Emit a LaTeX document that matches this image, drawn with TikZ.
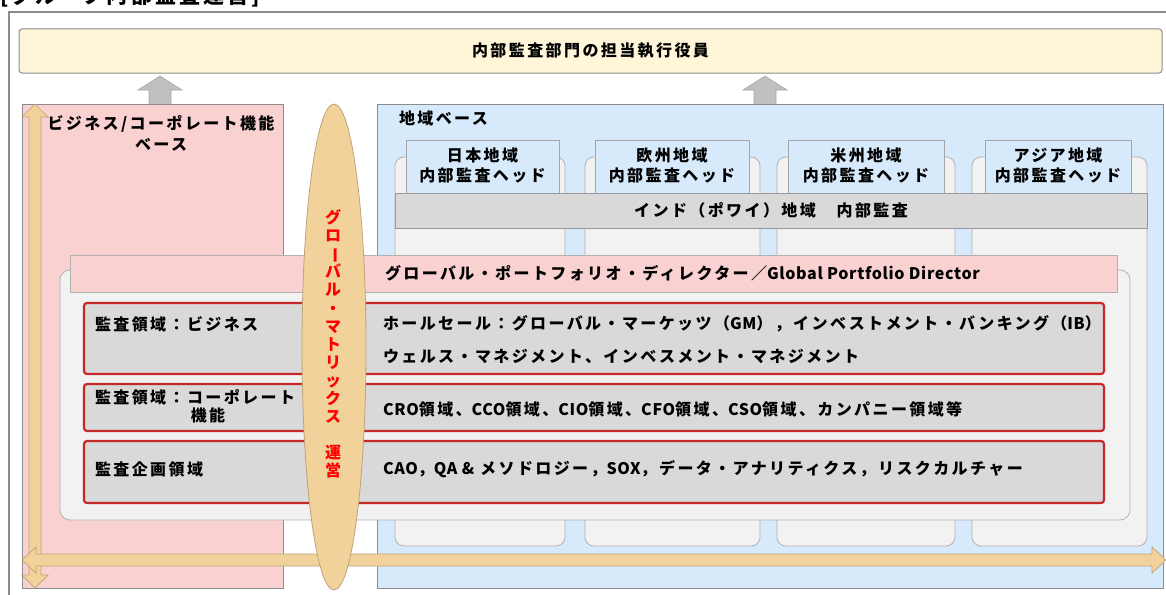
\documentclass[tikz,border=0pt]{standalone}
\usepackage{fontspec}
\setmainfont{Noto Sans CJK JP}[LetterSpace=15]
\newcommand{\lat}[1]{{\addfontfeature{LetterSpace=4}#1}}
\usetikzlibrary{shapes.geometric,calc}
\definecolor{ylw}{HTML}{FFF6DA}
\definecolor{pnk}{HTML}{F9D1D1}
\definecolor{blu}{HTML}{D6EAFB}
\definecolor{lgr}{HTML}{F2F2F2}
\definecolor{mgr}{HTML}{D9D9D9}
\definecolor{tanf}{HTML}{F2D29B}
\definecolor{tane}{HTML}{BFA27A}
\definecolor{redb}{HTML}{C62828}
\definecolor{edgec}{HTML}{8C8C8C}
\definecolor{garr}{HTML}{C0C0C0}
\tikzset{
  base/.style={inner sep=0pt, outer sep=0pt, anchor=north west},
  ybox/.style={base, fill=ylw, draw=edgec, line width=1pt, rounded corners=3pt},
  pbox/.style={base, fill=pnk, draw=edgec, line width=0.8pt},
  bbox/.style={base, fill=blu, draw=edgec, line width=0.8pt},
  colbox/.style={base, fill=lgr, draw=black!30, line width=0.8pt, rounded corners=9pt},
  headbox/.style={base, fill=blu, draw=black!35, line width=0.8pt},
  gbar/.style={base, fill=mgr, draw=black!40, line width=0.8pt},
  contbox/.style={base, fill=lgr, draw=black!30, line width=0.8pt, rounded corners=10pt},
  gpdbar/.style={base, fill=pnk, draw=black!30, line width=0.8pt},
  rbox/.style={base, fill=mgr, draw=redb, line width=2.2pt, rounded corners=3pt},
  txt/.style={inner sep=0pt, outer sep=0pt, font=\fontsize{16}{20}\selectfont\bfseries},
  ltxt/.style={txt, anchor=west},
  garrow/.style={fill=garr, draw=black!35, line width=0.6pt},
  tarrow/.style={fill=tanf, draw=tane, line width=0.7pt},
}
\begin{document}
\begin{tikzpicture}[x=1pt,y=-1pt]
\useasboundingbox (0,0) rectangle (1166,594);
% partial title
\node[txt, anchor=west, font=\fontsize{21}{22}\selectfont\bfseries] (ttl) at (0,-4) {[グループ内部監査運営]};
% outer frame
\draw[edgec, line width=1.2pt] (9,640) -- (9,12) -- (1200,12);
% executive box
\node[ybox, minimum width=1143, minimum height=44] (exec) at (19,29) {};
\node[txt] (exect) at (exec.center) {内部監査部門の担当執行役員};
% gray up arrows
\draw[garrow] (149,104) -- (149,90) -- (138,90) -- (160,76) -- (182,90) -- (171,90) -- (171,104);
\draw[garrow] (754,104) -- (754,90) -- (743,90) -- (765,76) -- (787,90) -- (776,90) -- (776,104);
% business base
\node[pbox, minimum width=261, minimum height=484] (biz) at (22,104) {};
\node[txt, align=center, font=\fontsize{16}{21}\selectfont\bfseries] (bizt) at (161,133) {ビジネス/コーポレート機能\\ベース};
% regional base
\node[bbox, minimum width=786, minimum height=484] (reg) at (377,104) {};
\node[ltxt] (regt) at (399,118) {地域ベース};
% columns
\foreach \cx/\cw/\hx/\hw/\nm [count=\i] in {395/170/406/153/日本地域, 585/175/595/154/欧州地域, 777/178/788/156/米州地域, 972/175/985/146/アジア地域}{
  \node[colbox, minimum width=\cw, minimum height=389] (col\i) at (\cx,157) {};
  \node[headbox, minimum width=\hw, minimum height=53] (head\i) at (\hx,140) {};
  \node[txt, align=center] (headt\i) at ($(head\i.center)+(0,-1)$) {\nm\\内部監査ヘッド};
}
% india bar
\node[gbar, minimum width=752, minimum height=35] (ind) at (395,193) {};
\node[txt] (indt) at (ind.center) {インド（ポワイ）地域　内部監査};
% GPD container
\node[contbox, minimum width=1070, minimum height=250] (cont) at (60,270) {};
\node[gpdbar, minimum width=1047, minimum height=37] (gpd) at (70,255) {};
\node[ltxt] (gpdt) at (385,273) {グローバル・ポートフォリオ・ディレクター／\lat{Global Portfolio Director}};
% red boxes
\node[rbox, minimum width=1020, minimum height=71] (r1) at (84,303) {};
\node[rbox, minimum width=1020, minimum height=47] (r2) at (84,384) {};
\node[rbox, minimum width=1020, minimum height=62] (r3) at (84,441) {};
\node[ltxt] (r1a) at (95,324) {監査領域：ビジネス};
\node[ltxt] (r1b) at (383,324) {ホールセール：グローバル・マーケッツ（\lat{GM}），インベストメント・バンキング（\lat{IB}）};
\node[ltxt] (r1c) at (383,356) {ウェルス・マネジメント、インベスメント・マネジメント};
\node[ltxt] (r2a) at (95,397) {監査領域：コーポレート};
\node[txt] (r2a2) at (208,415) {機能};
\node[ltxt] (r2b) at (383,409) {\lat{CRO}領域、\lat{CCO}領域、\lat{CIO}領域、\lat{CFO}領域、\lat{CSO}領域、カンパニー領域等};
\node[ltxt] (r3a) at (95,469) {監査企画領域};
\node[ltxt] (r3b) at (383,469) {\lat{CAO}，\lat{QA \&} メソドロジー，\lat{SOX}，データ・アナリティクス，リスクカルチャー};
% orange double arrows
\draw[tarrow] (29,117) -- (22,117) -- (35,104) -- (48,117) -- (41,117) -- (41,575) -- (48,575) -- (35,588) -- (22,575) -- (29,575) -- cycle;
\draw[tarrow] (22,560) -- (36,547) -- (36,554) -- (1152,554) -- (1152,547) -- (1166,560) -- (1152,573) -- (1152,566) -- (36,566) -- (36,573) -- cycle;
% matrix ellipse
\node[ellipse, fill=tanf, draw=tane, line width=0.8pt, minimum width=64, minimum height=486, inner sep=0pt] (mat) at (334,347) {};
\node[txt, align=center, text=red, font=\fontsize{16}{18.1}\selectfont\bfseries] (matt) at (333,344) {グ\\ロ\\\rotatebox[origin=c]{-90}{ー}\\バ\\ル\\・\\マ\\ト\\リ\\ッ\\ク\\ス\\\phantom{運}\\運\\営};
\end{tikzpicture}
\end{document}
